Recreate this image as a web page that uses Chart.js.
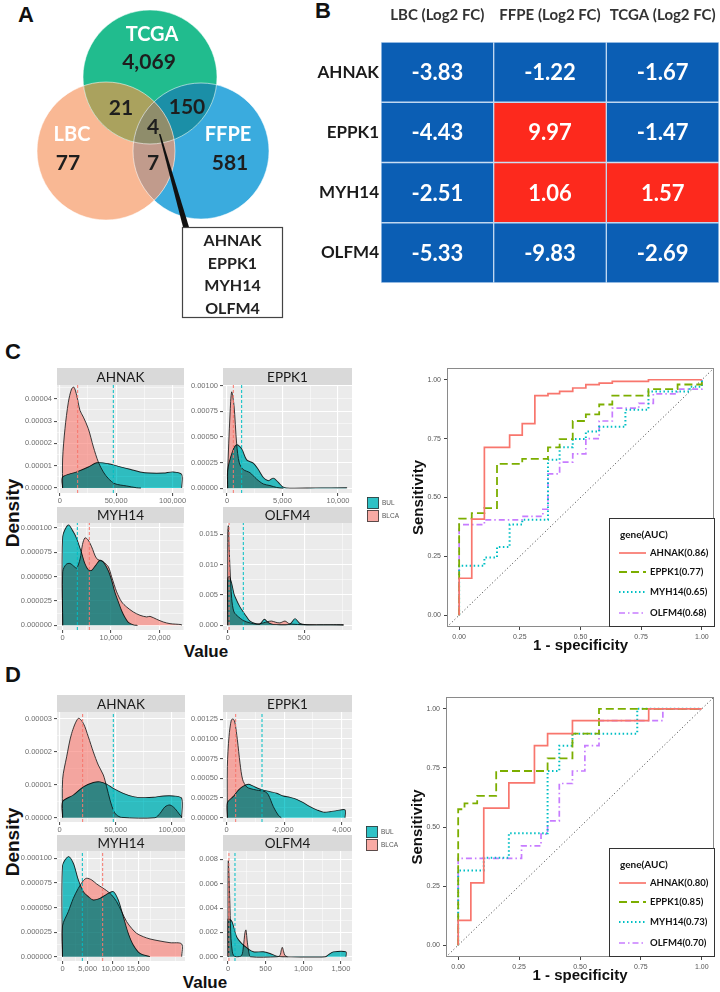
<!DOCTYPE html>
<html>
<head>
<meta charset="utf-8">
<title>Shared genes: Venn, log2 FC, densities and ROC</title>
<script src="https://cdn.jsdelivr.net/npm/chart.js@4.4.1/dist/chart.umd.min.js"></script>
<style>
  html, body { margin: 0; padding: 0; background: #fff; }
  body { position: relative; width: 720px; height: 992px; overflow: hidden; font-family: "Liberation Sans", Arial, sans-serif; }
  canvas { position: absolute; }
  .tag { position: absolute; font-weight: bold; color: #111; transform: translate(-50%, -50%); white-space: nowrap; line-height: 1; }
  .rot { transform: translate(-50%, -50%) rotate(-90deg); }
</style>
</head>
<body>
<div class="tag" style="left:26px;top:15px;font-size:22px">A</div>
<div class="tag" style="left:323px;top:11px;font-size:22px">B</div>
<div class="tag" style="left:13px;top:352px;font-size:22px">C</div>
<div class="tag" style="left:13px;top:675px;font-size:22px">D</div>
<div class="tag rot" style="left:12px;top:513px;font-size:19px">Density</div>
<div class="tag rot" style="left:12px;top:842px;font-size:19px">Density</div>
<div class="tag" style="left:206px;top:651px;font-size:17px">Value</div>
<div class="tag" style="left:205px;top:982px;font-size:17px">Value</div>
<script>
/* ---------- A: Venn counts ---------- */
const vennSets = ['TCGA', 'LBC', 'FFPE'];
const vennOnly = [4069, 77, 581];
const vennPairs = [21, 150, 7];            // TCGA∩LBC, TCGA∩FFPE, LBC∩FFPE
const vennAll = 4;
const sharedGenes = ['AHNAK', 'EPPK1', 'MYH14', 'OLFM4'];

/* ---------- B: log2 fold change ---------- */
const fcCols = ['LBC (Log2 FC)', 'FFPE (Log2 FC)', 'TCGA (Log2 FC)'];
const fcLBC = [-3.83, -4.43, -2.51, -5.33];
const fcFFPE = [-1.22, 9.97, 1.06, -9.83];
const fcTCGA = [-1.67, -1.47, 1.57, -2.69];

/* ---------- C: densities (BLCA / BUL) ---------- */
const cAhnakBlcaX = [2500, 2500, 4600, 7600, 10500, 12600, 15000, 17900, 20900, 25300, 29800, 34200, 38600, 43100, 49000, 59300, 68200, 72000];
const cAhnakBlcaY = [0, 1.3e-5, 2.66e-5, 3.85e-5, 4.45e-5, 4.52e-5, 4.15e-5, 3.48e-5, 3.18e-5, 2.66e-5, 1.84e-5, 1.16e-5, 0.72e-5, 0.42e-5, 0.19e-5, 0.09e-5, 0.01e-5, 0];
const cAhnakBulX = [2500, 2500, 15000, 25300, 32700, 43100, 51900, 62300, 71200, 80000, 91900, 100700, 108100, 108100];
const cAhnakBulY = [0, 0.49e-5, 0.72e-5, 0.94e-5, 1.13e-5, 1.09e-5, 0.97e-5, 0.84e-5, 0.72e-5, 0.67e-5, 0.67e-5, 0.72e-5, 0.61e-5, 0];
const cAhnakMeans = [15850, 47460];

const cEppk1BlcaX = [60, 60, 270, 420, 631, 871, 1111, 1471, 2072, 2673, 3273, 3874, 4474, 5075];
const cEppk1BlcaY = [0, 0.00015, 0.000713, 0.000938, 0.000806, 0.000431, 0.000244, 0.000181, 0.00015, 0.0000875, 0.0000406, 0.000025, 0.0000063, 0];
const cEppk1BulX = [60, 60, 511, 871, 1321, 1772, 2373, 2823, 3273, 3724, 4174, 4625, 5075, 5676, 8000, 10782, 10782];
const cEppk1BulY = [0, 0.000175, 0.000363, 0.000422, 0.000384, 0.000275, 0.000244, 0.000181, 0.000103, 0.000072, 0.000097, 0.000056, 0.0000094, 0, 0.000002, 0.000003, 0];
const cEppk1Means = [571, 1321];

const cMyh14BlcaX = [0, 0, 700, 1500, 2500, 2900, 3600, 4100, 4600, 5200, 5997, 7032, 8412, 9447, 10137, 11172, 12207, 13242, 14622, 16002, 17382, 18072, 19452, 20832, 22212, 24600, 24600];
const cMyh14BlcaY = [0, 0.000055, 0.0000625, 0.0000635, 0.0000598, 0.0000585, 0.000068, 0.000083, 0.0000897, 0.000088, 0.0000805, 0.0000685, 0.000065, 0.00006, 0.0000497, 0.0000343, 0.000024, 0.0000188, 0.0000137, 0.0000103, 0.0000086, 0.0000092, 0.0000062, 0.0000034, 0.0000017, 0.0000007, 0];
const cMyh14BulX = [0, 0, 1166, 2200, 2891, 3926, 4617, 5306, 5997, 7032, 7722, 8412, 9447, 10137, 10800, 11517, 12207, 12900, 13587, 14622, 15500];
const cMyh14BulY = [0, 0.000091, 0.000103, 0.000096, 0.000089, 0.000074, 0.000063, 0.000057, 0.0000565, 0.000063, 0.0000668, 0.000065, 0.000056, 0.000046, 0.000034, 0.000024, 0.000015, 0.000008, 0.000003, 0.0000005, 0];
const cMyh14Means = [5510, 3030];

const cOlfm4BlcaX = [0, 0, 4, 9, 15, 26, 41, 70, 102, 146, 190, 233, 260, 288, 315, 342, 375, 400, 419, 495, 582, 670, 757, 757];
const cOlfm4BlcaY = [0, 0.0155, 0.0164, 0.013, 0.0093, 0.0044, 0.0022, 0.0014, 0.0008, 0.0004, 0.0002, 0.0004, 0.0006, 0.0007, 0.0005, 0.0004, 0.0007, 0.0003, 0.0002, 0.0001, 0.0001, 0.0001, 0.0001, 0];
const cOlfm4BulX = [0, 0, 11, 26, 41, 59, 81, 102, 124, 146, 179, 211, 240, 266, 299, 364, 408, 441, 473, 517, 650, 757, 757];
const cOlfm4BulY = [0, 0.0078, 0.008, 0.0069, 0.0052, 0.0041, 0.003, 0.0022, 0.0014, 0.0007, 0.0003, 0.0002, 0.001, 0.00045, 0.00015, 0.0001, 0.0002, 0.0011, 0.0003, 0.0001, 0.00008, 0.00005, 0];
const cOlfm4Means = [9, 102];

/* ---------- D: densities (BLCA / BUL) ---------- */
const dAhnakBlcaX = [2800, 2800, 6370, 10800, 16750, 21200, 25630, 30080, 34500, 38970, 41930, 44900, 47850, 50800, 55250, 84900, 89340, 93800, 98200, 102600, 107100, 108500, 108500];
const dAhnakBlcaY = [0, 1.17e-5, 1.85e-5, 2.56e-5, 3.02e-5, 2.87e-5, 2.46e-5, 2.0e-5, 1.6e-5, 1.3e-5, 0.94e-5, 0.54e-5, 0.23e-5, 0.08e-5, 0.01e-5, 0, 0.13e-5, 0.33e-5, 0.385e-5, 0.28e-5, 0.08e-5, 0.03e-5, 0];
const dAhnakBulX = [2800, 2800, 12300, 21200, 30080, 36000, 41930, 47850, 56700, 65600, 74500, 83400, 92300, 101200, 108600, 108600];
const dAhnakBulY = [0, 0.49e-5, 0.69e-5, 0.94e-5, 1.07e-5, 1.09e-5, 1.02e-5, 0.89e-5, 0.74e-5, 0.64e-5, 0.61e-5, 0.62e-5, 0.66e-5, 0.66e-5, 0.59e-5, 0];
const dAhnakMeans = [20600, 47850];

const dEppk1BlcaX = [23, 23, 81, 162, 231, 289, 370, 463, 556, 695, 810, 1042, 1332, 1448, 1622, 1796, 1900];
const dEppk1BlcaY = [0, 0.00065, 0.00103, 0.00124, 0.00125, 0.0012, 0.00099, 0.00069, 0.00048, 0.00039, 0.00037, 0.00035, 0.00033, 0.00029, 0.00014, 0.00003, 0];
const dEppk1BulX = [23, 23, 231, 405, 579, 753, 927, 1100, 1274, 1506, 1738, 1970, 2202, 2434, 2666, 2898, 3130, 3362, 3594, 3826, 4116, 4116];
const dEppk1BulY = [0, 0.00019, 0.00027, 0.00035, 0.0004, 0.000424, 0.0004, 0.00037, 0.00035, 0.00033, 0.00031, 0.000275, 0.000258, 0.000233, 0.00019, 0.00014, 0.0001, 0.00007, 0.000076, 0.000089, 0.0001, 0];
const dEppk1Means = [312, 1228];

const dMyh14BlcaX = [0, 0, 1157, 2150, 3142, 4133, 4795, 5787, 6778, 7770, 8761, 9753, 10745, 11737, 12728, 13720, 14712, 16035, 17357, 19341, 21326, 23642, 23642];
const dMyh14BlcaY = [0, 0.0000312, 0.0000458, 0.0000593, 0.0000695, 0.0000773, 0.0000797, 0.000078, 0.0000739, 0.0000705, 0.0000671, 0.0000627, 0.0000559, 0.0000458, 0.0000356, 0.0000288, 0.0000237, 0.0000203, 0.000018, 0.0000159, 0.0000142, 0.0000129, 0];
const dMyh14BulX = [0, 0, 1157, 2150, 3142, 4133, 5125, 6117, 7430, 8752, 10075, 11067, 12059, 13051, 14043, 15366, 17350];
const dMyh14BulY = [0, 0.0000922, 0.0001017, 0.0000949, 0.000078, 0.0000661, 0.000061, 0.0000576, 0.0000593, 0.0000634, 0.0000661, 0.0000576, 0.0000407, 0.0000237, 0.0000119, 0.0000034, 0];
const dMyh14Means = [7969, 3935];

const dOlfm4BlcaX = [0, 0, 4, 13, 27, 40, 58, 75, 115, 181, 204, 226, 239, 257, 279, 300, 650, 690, 710, 722, 740, 757, 790];
const dOlfm4BlcaY = [0, 0.0065, 0.0079, 0.0068, 0.004, 0.0015, 0.0004, 0.0001, 0, 0.0001, 0.0008, 0.002, 0.0022, 0.0012, 0.0003, 0, 0, 0.0001, 0.0006, 0.00077, 0.0004, 0.0001, 0];
const dOlfm4BulX = [0, 0, 13, 53, 115, 181, 257, 336, 469, 558, 646, 730, 1290, 1340, 1400, 1567, 1567];
const dOlfm4BulY = [0, 0.00307, 0.0031, 0.0029, 0.00164, 0.0011, 0.0007, 0.00041, 0.00041, 0.00027, 0.00005, 0, 0, 0.0002, 0.0004, 0.0004, 0];
const dOlfm4Means = [13, 93];

/* ---------- density tick labels ---------- */
const cAhnakXTicks = [0, 50000, 100000];
const cEppk1XTicks = [0, 5000, 10000];
const cMyh14XTicks = [0, 10000, 20000];
const cOlfm4XTicks = [0, 500];
const dAhnakXTicks = [0, 50000, 100000];
const dEppk1XTicks = [0, 2000, 4000];
const dMyh14XTicks = [0, 5000, 10000, 15000];
const dOlfm4XTicks = [0, 500, 1000, 1500];
const cAhnakYTicks = [0, 0.00001, 0.00002, 0.00003, 0.00004];
const cEppk1YTicks = [0, 0.00025, 0.0005, 0.00075, 0.001];
const cMyh14YTicks = [0, 0.000025, 0.00005, 0.000075, 0.0001];
const cOlfm4YTicks = [0, 0.005, 0.01, 0.015];
const dAhnakYTicks = [0, 0.00001, 0.00002, 0.00003];
const dEppk1YTicks = [0, 0.00025, 0.0005, 0.00075, 0.001, 0.00125];
const dMyh14YTicks = [0, 0.000025, 0.00005, 0.000075, 0.0001];
const dOlfm4YTicks = [0, 0.002, 0.004, 0.006, 0.008];

/* ---------- ROC curves (1 - specificity, sensitivity) ---------- */
const rocTicks = [0, 0.25, 0.5, 0.75, 1];
const cAuc = [0.86, 0.77, 0.65, 0.68];
const dAuc = [0.80, 0.85, 0.73, 0.70];
const cRocAhnakFpr = [0, 0, 0.052, 0.052, 0.104, 0.104, 0.208, 0.208, 0.26, 0.26, 0.312, 0.312, 0.366, 0.366, 0.414, 0.414, 0.468, 0.468, 0.522, 0.522, 0.577, 0.577, 0.631, 0.631, 0.78, 0.78, 1];
const cRocAhnakTpr = [0, 0.157, 0.157, 0.408, 0.408, 0.713, 0.713, 0.765, 0.765, 0.814, 0.814, 0.933, 0.933, 0.941, 0.941, 0.951, 0.951, 0.965, 0.965, 0.979, 0.979, 0.986, 0.986, 0.993, 0.993, 1, 1];
const cRocEppk1Fpr = [0, 0, 0.052, 0.052, 0.104, 0.104, 0.156, 0.156, 0.26, 0.26, 0.366, 0.366, 0.414, 0.414, 0.468, 0.468, 0.522, 0.522, 0.577, 0.577, 0.631, 0.631, 0.78, 0.78, 0.9, 0.9, 1, 1];
const cRocEppk1Tpr = [0, 0.41, 0.41, 0.434, 0.434, 0.455, 0.455, 0.643, 0.643, 0.664, 0.664, 0.713, 0.713, 0.748, 0.748, 0.825, 0.825, 0.853, 0.853, 0.895, 0.895, 0.933, 0.933, 0.96, 0.96, 0.98, 0.98, 1];
const cRocMyh14Fpr = [0, 0, 0.104, 0.104, 0.156, 0.156, 0.208, 0.208, 0.26, 0.26, 0.366, 0.366, 0.414, 0.414, 0.468, 0.468, 0.522, 0.522, 0.577, 0.577, 0.685, 0.685, 0.78, 0.78, 0.95, 0.95, 1, 1];
const cRocMyh14Tpr = [0, 0.21, 0.21, 0.245, 0.245, 0.29, 0.29, 0.385, 0.385, 0.405, 0.405, 0.66, 0.66, 0.713, 0.713, 0.748, 0.748, 0.78, 0.78, 0.8, 0.8, 0.873, 0.873, 0.95, 0.95, 0.97, 0.97, 1];
const cRocOlfm4Fpr = [0, 0, 0.104, 0.104, 0.26, 0.26, 0.345, 0.345, 0.366, 0.366, 0.414, 0.414, 0.468, 0.468, 0.522, 0.522, 0.577, 0.577, 0.631, 0.631, 0.74, 0.74, 0.8, 0.8, 0.9, 0.9, 1, 1];
const cRocOlfm4Tpr = [0, 0.385, 0.385, 0.405, 0.405, 0.42, 0.42, 0.45, 0.45, 0.6, 0.6, 0.65, 0.65, 0.685, 0.685, 0.75, 0.75, 0.825, 0.825, 0.88, 0.88, 0.9, 0.9, 0.94, 0.94, 0.96, 0.96, 1];
const dRocAhnakFpr = [0, 0, 0.052, 0.052, 0.105, 0.105, 0.208, 0.208, 0.313, 0.313, 0.367, 0.367, 0.469, 0.469, 0.782, 0.782, 1];
const dRocAhnakTpr = [0, 0.105, 0.105, 0.264, 0.264, 0.58, 0.58, 0.687, 0.687, 0.844, 0.844, 0.895, 0.895, 0.95, 0.95, 1, 1];
const dRocEppk1Fpr = [0, 0, 0.026, 0.026, 0.078, 0.078, 0.156, 0.156, 0.367, 0.367, 0.469, 0.469, 0.578, 0.578, 1];
const dRocEppk1Tpr = [0, 0.575, 0.575, 0.6, 0.6, 0.632, 0.632, 0.737, 0.737, 0.79, 0.79, 0.895, 0.895, 1, 1];
const dRocMyh14Fpr = [0, 0, 0.105, 0.105, 0.208, 0.208, 0.367, 0.367, 0.415, 0.415, 0.469, 0.469, 0.735, 0.735, 1];
const dRocMyh14Tpr = [0, 0.316, 0.316, 0.37, 0.37, 0.474, 0.474, 0.737, 0.737, 0.844, 0.844, 0.895, 0.895, 1, 1];
const dRocOlfm4Fpr = [0, 0, 0.26, 0.26, 0.34, 0.34, 0.367, 0.367, 0.415, 0.415, 0.469, 0.469, 0.52, 0.52, 0.578, 0.578, 0.84, 0.84, 1];
const dRocOlfm4Tpr = [0, 0.367, 0.367, 0.42, 0.42, 0.47, 0.47, 0.526, 0.526, 0.684, 0.684, 0.737, 0.737, 0.844, 0.844, 0.95, 0.95, 1, 1];

/* ---------- shared helpers ---------- */
Chart.defaults.plugins.legend.display = false;
Chart.defaults.plugins.tooltip.enabled = false;
Chart.defaults.font.family = '"Liberation Sans", Arial, sans-serif';

const BLCA = '#f8766d', BUL = '#00bfc4';
const base = { responsive: false, animation: false, devicePixelRatio: 1, events: [] };
const pts = (xs, ys) => xs.map((x, i) => ({ x, y: ys[i] }));

function makeCanvas(left, top, w, h) {
  const c = document.createElement('canvas');
  c.width = w; c.height = h;
  c.style.left = left + 'px'; c.style.top = top + 'px';
  c.style.width = w + 'px'; c.style.height = h + 'px';
  document.body.appendChild(c);
  return c;
}

// pin an axis to a fixed thickness and stop label overflow from shrinking the plot
function fixed(size) {
  return (s) => {
    if (s.isHorizontal()) s.height = size; else s.width = size;
    s.paddingLeft = s.paddingRight = s.paddingTop = s.paddingBottom = 0;
  };
}

// majors plus ggplot-style minor breaks halfway between them
function withMinors(major, min, max) {
  const out = major.map((v) => ({ value: v }));
  const step = major[1] - major[0];
  for (let v = major[0] - step / 2; v <= max; v += step) {
    if (v >= min) out.push({ value: v, minor: true });
  }
  return out;
}

/* ---------- A: Venn ---------- */
const vennLayout = [{ x: 150, y: 77, r: 67 }, { x: 106, y: 151, r: 69 }, { x: 201, y: 151, r: 68 }];
const vennFill = ['#21bc8e', '#f9b894', '#3aabde'];
const vennPairFill = ['#aaa25e', '#1b8fa7', '#c19b8c'];
const vennPairSets = [[0, 1], [0, 2], [1, 2]];
const vennNamePos = [[152, 35], [72, 135], [228, 135]];
const vennOnlyPos = [[149, 62], [68, 163], [230, 163]];
const vennPairPos = [[121, 108], [187, 107], [153, 163]];
const vennCorePos = [153, 127];

const vennPlugin = {
  id: 'venn',
  afterDatasetsDraw(chart) {
    const ctx = chart.ctx;
    const el = (i) => chart.getDatasetMeta(i).data[0];
    const circle = (e) => { ctx.beginPath(); ctx.arc(e.x, e.y, e.options.radius, 0, Math.PI * 2); };
    vennPairSets.forEach(([a, b], k) => {
      ctx.save(); circle(el(a)); ctx.clip(); circle(el(b));
      ctx.fillStyle = vennPairFill[k]; ctx.fill(); ctx.restore();
    });
    ctx.save(); circle(el(0)); ctx.clip(); circle(el(1)); ctx.clip(); circle(el(2));
    ctx.fillStyle = '#8f8d6b'; ctx.fill(); ctx.restore();
    ctx.save();
    ctx.strokeStyle = 'rgba(255,255,255,0.55)'; ctx.lineWidth = 1;
    [0, 1, 2].forEach((i) => { circle(el(i)); ctx.stroke(); });
    ctx.restore();
  },
  afterDraw(chart) {
    const { ctx, scales: { x, y } } = chart;
    const at = (p) => [x.getPixelForValue(p[0]), y.getPixelForValue(p[1])];
    ctx.save();
    ctx.textAlign = 'center'; ctx.textBaseline = 'middle';
    ctx.font = 'bold 20px Lato'; ctx.fillStyle = '#fff';
    vennSets.forEach((s, i) => ctx.fillText(s, ...at(vennNamePos[i])));
    ctx.font = 'bold 21px Lato'; ctx.fillStyle = '#1e1e1e';
    vennOnly.forEach((n, i) => ctx.fillText(n.toLocaleString('en-US'), ...at(vennOnlyPos[i])));
    vennPairs.forEach((n, i) => ctx.fillText(String(n), ...at(vennPairPos[i])));
    ctx.fillText(String(vennAll), ...at(vennCorePos));
    // callout wedge + gene box
    ctx.fillStyle = '#111';
    ctx.beginPath();
    ctx.moveTo(...at([159, 134])); ctx.lineTo(...at([160.5, 134]));
    ctx.lineTo(...at([189, 227])); ctx.lineTo(...at([183, 227])); ctx.closePath(); ctx.fill();
    const [bx0, by0] = at([182, 227]), [bx1, by1] = at([283, 318]);
    ctx.fillStyle = '#fff'; ctx.fillRect(bx0, by0, bx1 - bx0, by1 - by0);
    ctx.strokeStyle = '#444'; ctx.lineWidth = 1.2; ctx.strokeRect(bx0 + 0.5, by0 + 0.5, bx1 - bx0 - 1, by1 - by0 - 1);
    ctx.fillStyle = '#222'; ctx.font = 'bold 16px Lato';
    sharedGenes.forEach((g, i) => ctx.fillText(g, (bx0 + bx1) / 2, by0 + 14 + i * 22.5));
    ctx.restore();
  }
};

new Chart(makeCanvas(0, 0, 300, 322), {
  type: 'bubble',
  data: {
    datasets: vennSets.map((s, i) => ({
      label: s, data: [vennLayout[i]], backgroundColor: vennFill[i], borderWidth: 0
    }))
  },
  options: Object.assign({}, base, {
    layout: { padding: 0, autoPadding: false },
    scales: {
      x: { display: false, min: 0, max: 300 },
      y: { display: false, min: 0, max: 322, reverse: true }
    }
  }),
  plugins: [vennPlugin]
});

/* ---------- B: log2 FC grid ---------- */
const fcSeries = [fcLBC, fcFFPE, fcTCGA];
const cellText = {
  id: 'cellText',
  afterDatasetsDraw(chart) {
    const ctx = chart.ctx;
    ctx.save();
    ctx.font = 'bold 22px Lato'; ctx.fillStyle = '#fff';
    ctx.textAlign = 'center'; ctx.textBaseline = 'middle';
    chart.data.datasets.forEach((ds, di) => {
      chart.getDatasetMeta(di).data.forEach((bar, i) => {
        ctx.fillText(ds.fc[i].toFixed(2), (bar.x + bar.base) / 2, bar.y + 1);
      });
    });
    ctx.restore();
  }
};

new Chart(makeCanvas(300, 0, 420, 300), {
  type: 'bar',
  data: {
    labels: sharedGenes,
    datasets: fcSeries.map((vals, c) => ({
      label: fcCols[c],
      fc: vals,
      data: vals.map(() => [c, c + 1]),
      backgroundColor: vals.map((v) => (v > 0 ? '#fd291d' : '#0b5eb4')),
      borderColor: 'rgba(190,214,240,0.95)',
      borderWidth: 1,
      borderSkipped: false,
      barPercentage: 1,
      categoryPercentage: 1,
      grouped: false
    }))
  },
  options: Object.assign({}, base, {
    indexAxis: 'y',
    layout: { padding: { left: 0, top: 0, right: 1, bottom: 17 }, autoPadding: false },
    scales: {
      x: {
        type: 'linear', min: 0, max: 3, position: 'top',
        afterFit: fixed(42),
        afterBuildTicks: (s) => { s.ticks = [0.5, 1.5, 2.5].map((v) => ({ value: v })); },
        grid: { display: false, drawTicks: false }, border: { display: false },
        ticks: {
          autoSkip: false, maxRotation: 0, padding: 18, color: '#333',
          font: { family: 'Lato', weight: 'bold', size: 15 },
          callback: (v, i) => fcCols[i]
        }
      },
      y: {
        afterFit: fixed(81),
        grid: { display: false, drawTicks: false }, border: { display: false },
        ticks: { padding: 2, color: '#1a1a1a', font: { family: 'Lato', weight: 'bold', size: 17 } }
      }
    }
  }),
  plugins: [cellText]
});

/* ---------- C / D: density facets ---------- */
const panelPlugin = {
  id: 'panel',
  beforeDraw(chart, args, opts) {
    const { ctx, chartArea: a } = chart;
    ctx.save();
    ctx.fillStyle = '#ebebeb';
    ctx.fillRect(a.left, a.top, a.right - a.left, a.bottom - a.top);
    ctx.fillStyle = '#d9d9d9';
    ctx.fillRect(a.left, a.top - opts.h, a.right - a.left, opts.h);
    ctx.fillStyle = '#1a1a1a'; ctx.font = '13.5px Lato';
    ctx.textAlign = 'center'; ctx.textBaseline = 'middle';
    ctx.fillText(opts.title, (a.left + a.right) / 2, a.top - opts.h / 2 + 1);
    ctx.restore();
  }
};

// the BUL curve is multiplied over BLCA, like the darker overlap in the figure
const blendPlugin = {
  id: 'blend',
  beforeDatasetsDraw(chart) { chart.ctx.globalCompositeOperation = 'source-over'; },
  afterDatasetDraw(chart, args) {
    const metas = chart.getSortedVisibleDatasetMetas();
    const pos = metas.findIndex((m) => m.index === args.index);
    const next = metas[pos - 1];
    chart.ctx.globalCompositeOperation = next && next._dataset.blend ? 'multiply' : 'source-over';
  },
  afterDatasetsDraw(chart) { chart.ctx.globalCompositeOperation = 'source-over'; }
};

function densityPanel(o) {
  const yw = 58, xh = 16, pr = 8;
  const [l, t, r, b] = o.box;
  const cv = makeCanvas(l - yw, t - o.strip, r - l + yw + pr, b - t + o.strip + xh);
  const xt = withMinors(o.xTicks, o.xMin, o.xMax);
  const yt = withMinors(o.yTicks, o.yMin, o.yMax);
  const curve = { pointRadius: 0, borderColor: '#262626', borderWidth: 0.9, tension: 0.3, fill: 'origin' };
  const vline = (m, col) => ({
    data: [{ x: m, y: o.yMin }, { x: m, y: o.yMax }], order: -1, pointRadius: 0,
    borderColor: col, borderWidth: 1, borderDash: [3, 2], fill: false, tension: 0
  });
  const grid = {
    color: '#fff', tickLength: 3,
    lineWidth: (c) => (c.tick && c.tick.minor ? 0.5 : 1.1),
    tickColor: (c) => (c.tick && c.tick.minor ? 'rgba(0,0,0,0)' : '#555')
  };
  const tickFont = { size: 7.5 };
  new Chart(cv, {
    type: 'line',
    data: {
      datasets: [
        Object.assign({ label: 'BUL', data: pts(o.bulX, o.bulY), order: 0, blend: true, backgroundColor: 'rgba(0,191,196,0.8)' }, curve),
        Object.assign({ label: 'BLCA', data: pts(o.blcaX, o.blcaY), order: 1, backgroundColor: 'rgba(248,118,109,0.6)' }, curve),
        vline(o.means[0], BLCA),
        vline(o.means[1], BUL)
      ]
    },
    options: Object.assign({}, base, {
      layout: { padding: { top: o.strip, right: pr, left: 0, bottom: 0 }, autoPadding: false },
      plugins: { panel: { title: o.title, h: o.strip } },
      scales: {
        x: {
          type: 'linear', min: o.xMin, max: o.xMax,
          afterFit: fixed(xh),
          afterBuildTicks: (s) => { s.ticks = xt.map((k) => Object.assign({}, k)); },
          grid, border: { display: false },
          ticks: {
            autoSkip: false, maxRotation: 0, padding: 0, color: '#6e6e6e', font: tickFont,
            callback: (v, i, ts) => (ts[i].minor ? '' : v.toLocaleString('en-US'))
          }
        },
        y: {
          type: 'linear', min: o.yMin, max: o.yMax,
          afterFit: fixed(yw),
          afterBuildTicks: (s) => { s.ticks = yt.map((k) => Object.assign({}, k)); },
          grid, border: { display: false },
          ticks: {
            autoSkip: false, padding: 2, color: '#6e6e6e', font: tickFont,
            callback: (v, i, ts) => (ts[i].minor ? '' : v.toFixed(o.yDec))
          }
        }
      }
    }),
    plugins: [panelPlugin, blendPlugin]
  });
}

densityPanel({ title: 'AHNAK', box: [57, 385, 184, 493], strip: 17, xMin: -2484, xMax: 110165, yMin: -0.225e-5, yMax: 4.62e-5, yDec: 5,
  xTicks: cAhnakXTicks, yTicks: cAhnakYTicks, blcaX: cAhnakBlcaX, blcaY: cAhnakBlcaY, bulX: cAhnakBulX, bulY: cAhnakBulY, means: cAhnakMeans });
densityPanel({ title: 'EPPK1', box: [223, 385, 352, 493], strip: 17, xMin: -360, xMax: 11261, yMin: -0.0000475, yMax: 0.001005, yDec: 5,
  xTicks: cEppk1XTicks, yTicks: cEppk1YTicks, blcaX: cEppk1BlcaX, blcaY: cEppk1BlcaY, bulX: cEppk1BulX, bulY: cEppk1BulY, means: cEppk1Means });
densityPanel({ title: 'MYH14', box: [57, 523, 184, 630], strip: 16, xMin: -1180, xMax: 25109, yMin: -0.0000048, yMax: 0.000105, yDec: 6,
  xTicks: cMyh14XTicks, yTicks: cMyh14YTicks, blcaX: cMyh14BlcaX, blcaY: cMyh14BlcaY, bulX: cMyh14BulX, bulY: cMyh14BulY, means: cMyh14Means });
densityPanel({ title: 'OLFM4', box: [223, 523, 352, 630], strip: 16, xMin: -31, xMax: 814, yMin: -0.00077, yMax: 0.01686, yDec: 3,
  xTicks: cOlfm4XTicks, yTicks: cOlfm4YTicks, blcaX: cOlfm4BlcaX, blcaY: cOlfm4BlcaY, bulX: cOlfm4BulX, bulY: cOlfm4BulY, means: cOlfm4Means });

densityPanel({ title: 'AHNAK', box: [57, 712, 185, 822], strip: 17, xMin: -2200, xMax: 111570, yMin: -0.131e-5, yMax: 3.213e-5, yDec: 5,
  xTicks: dAhnakXTicks, yTicks: dAhnakYTicks, blcaX: dAhnakBlcaX, blcaY: dAhnakBlcaY, bulX: dAhnakBulX, bulY: dAhnakBulY, means: dAhnakMeans });
densityPanel({ title: 'EPPK1', box: [223, 712, 352, 822], strip: 17, xMin: -129, xMax: 4358, yMin: -0.0000546, yMax: 0.00134, yDec: 5,
  xTicks: dEppk1XTicks, yTicks: dEppk1YTicks, blcaX: dEppk1BlcaX, blcaY: dEppk1BlcaY, bulX: dEppk1BulX, bulY: dEppk1BulY, means: dEppk1Means });
densityPanel({ title: 'MYH14', box: [57, 851, 185, 961], strip: 16, xMin: -1091, xMax: 24304, yMin: -0.0000044, yMax: 0.0001074, yDec: 6,
  xTicks: dMyh14XTicks, yTicks: dMyh14YTicks, blcaX: dMyh14BlcaX, blcaY: dMyh14BlcaY, bulX: dMyh14BulX, bulY: dMyh14BulY, means: dMyh14Means });
densityPanel({ title: 'OLFM4', box: [223, 851, 352, 961], strip: 16, xMin: -66, xMax: 1647, yMin: -0.00035, yMax: 0.00869, yDec: 3,
  xTicks: dOlfm4XTicks, yTicks: dOlfm4YTicks, blcaX: dOlfm4BlcaX, blcaY: dOlfm4BlcaY, bulX: dOlfm4BulX, bulY: dOlfm4BulY, means: dOlfm4Means });

/* ---------- C / D: ROC ---------- */
const rocStyle = [
  { color: '#f8766d', dash: [], width: 1.7 },
  { color: '#7cae00', dash: [8, 4], width: 1.8 },
  { color: '#00bfc4', dash: [1.5, 2.5], width: 2 },
  { color: '#c77cff', dash: [6, 3, 1.5, 3], width: 1.7 }
];

const rocDeco = {
  id: 'rocDeco',
  afterDraw(chart) {
    const { ctx, chartArea: a } = chart;
    ctx.save();
    ctx.strokeStyle = '#8a8a8a'; ctx.lineWidth = 1;
    ctx.strokeRect(a.left + 0.5, a.top + 0.5, a.right - a.left - 1, a.bottom - a.top - 1);

    // axis titles
    ctx.fillStyle = '#111'; ctx.font = 'bold 15px "Liberation Sans", Arial, sans-serif';
    ctx.textAlign = 'center'; ctx.textBaseline = 'middle';
    ctx.fillText('1 - specificity', (a.left + a.right) / 2, a.bottom + 19);
    ctx.save();
    ctx.translate(a.left - 28, (a.top + a.bottom) / 2); ctx.rotate(-Math.PI / 2);
    ctx.fillText('Sensitivity', 0, 0);
    ctx.restore();

    // gene(AUC) legend in the lower right corner
    const bx = a.right - 105, by = a.bottom - 109;
    ctx.fillStyle = '#fff'; ctx.fillRect(bx, by, 106, 109);
    ctx.strokeStyle = '#333'; ctx.strokeRect(bx + 0.5, by + 0.5, 105, 108);
    ctx.textAlign = 'left';
    ctx.fillStyle = '#111'; ctx.font = '700 10px Lato';
    ctx.fillText('gene(AUC)', bx + 11, by + 17);
    const rows = [35, 54, 74, 95];
    chart.data.datasets.filter((d) => d.gene).forEach((d, i) => {
      const yy = by + rows[i];
      ctx.strokeStyle = d.borderColor; ctx.lineWidth = d.borderWidth; ctx.setLineDash(d.borderDash);
      ctx.beginPath(); ctx.moveTo(bx + 10, yy); ctx.lineTo(bx + 37, yy); ctx.stroke();
      ctx.setLineDash([]);
      ctx.fillStyle = '#111'; ctx.font = '700 9.5px Lato';
      ctx.fillText(d.gene + '(' + d.auc.toFixed(2) + ')', bx + 41, yy);
    });

    // BUL / BLCA key for the density facets
    const kx = a.left - 80, ky = a.top + 129;
    [['BUL', '#2ec2c6'], ['BLCA', '#f9aaa4']].forEach(([name, col], i) => {
      ctx.fillStyle = col; ctx.fillRect(kx, ky + i * 13, 12, 12);
      ctx.strokeStyle = '#333'; ctx.lineWidth = 0.8; ctx.strokeRect(kx + 0.5, ky + i * 13 + 0.5, 11, 11);
      ctx.fillStyle = '#555'; ctx.font = '6.5px "Liberation Sans", Arial, sans-serif';
      ctx.fillText(name, kx + 15, ky + i * 13 + 6);
    });
    ctx.restore();
  }
};

function rocPanel(box, curves, auc) {
  const [l, t, r, b] = box;
  const cv = makeCanvas(360, t - 8, 360, b - t + 8 + 32);
  const datasets = [{
    data: [{ x: -0.05, y: -0.05 }, { x: 1.05, y: 1.05 }], order: 10, pointRadius: 0,
    borderColor: '#333', borderWidth: 1, borderDash: [1, 2.5], fill: false
  }];
  curves.forEach(([fpr, tpr], i) => {
    datasets.push({
      gene: sharedGenes[i], auc: auc[i], data: pts(fpr, tpr), order: i,
      pointRadius: 0, fill: false, tension: 0,
      borderColor: rocStyle[i].color, borderDash: rocStyle[i].dash, borderWidth: rocStyle[i].width
    });
  });
  const axis = (fit) => ({
    type: 'linear', min: -0.05, max: 1.05,
    afterFit: fixed(fit),
    afterBuildTicks: (s) => { s.ticks = rocTicks.map((v) => ({ value: v })); },
    grid: { display: true, drawOnChartArea: false, drawTicks: true, tickLength: 3, tickColor: '#444' },
    border: { display: false },
    ticks: { autoSkip: false, maxRotation: 0, padding: 3, color: '#555', font: { size: 7 }, callback: (v) => v.toFixed(2) }
  });
  new Chart(cv, {
    type: 'line',
    data: { datasets },
    options: Object.assign({}, base, {
      layout: { padding: { top: 8, right: 720 - r, left: 0, bottom: 0 }, autoPadding: false },
      scales: { x: axis(32), y: axis(l - 360) }
    }),
    plugins: [rocDeco]
  });
}

rocPanel([447, 368, 714, 627],
  [[cRocAhnakFpr, cRocAhnakTpr], [cRocEppk1Fpr, cRocEppk1Tpr], [cRocMyh14Fpr, cRocMyh14Tpr], [cRocOlfm4Fpr, cRocOlfm4Tpr]], cAuc);
rocPanel([446, 697, 714, 957],
  [[dRocAhnakFpr, dRocAhnakTpr], [dRocEppk1Fpr, dRocEppk1Tpr], [dRocMyh14Fpr, dRocMyh14Tpr], [dRocOlfm4Fpr, dRocOlfm4Tpr]], dAuc);
</script>
</body>
</html>
